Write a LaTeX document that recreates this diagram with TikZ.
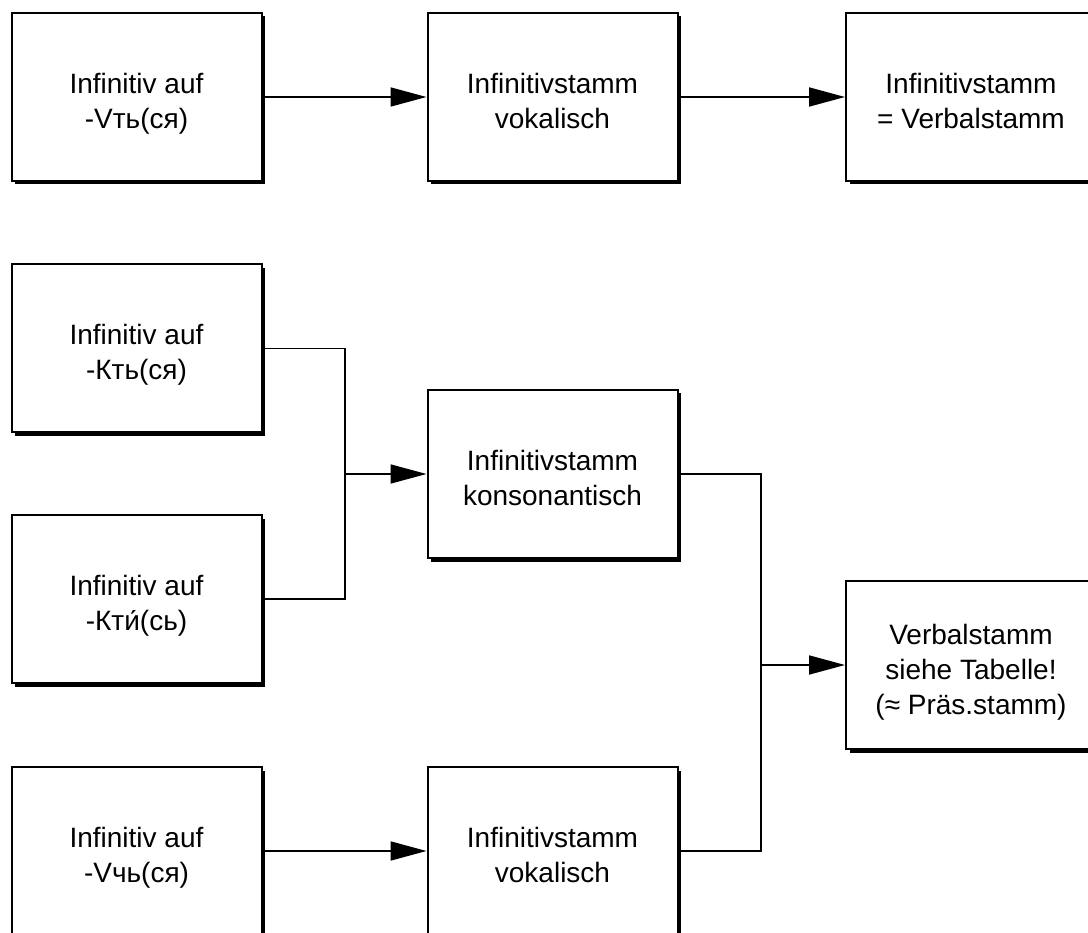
\documentclass[tikz,border=0pt]{standalone}
\usepackage{fontspec}
\setmainfont{Liberation Sans}
\usetikzlibrary{arrows.meta,shadows}
% two- or three-line box label, set a little below the box centre
\newcommand\stemtext[1]{\raisebox{-7pt}[\height][\depth]{\begin{tabular}{@{}c@{}}#1\end{tabular}}}
\begin{document}
\begin{tikzpicture}[x=1pt,y=-1pt,
  stembox/.style={draw,line width=2pt,fill=white,minimum width=250pt,minimum height=168pt,
    inner sep=0pt,font=\fontsize{28}{35}\selectfont,
    drop shadow={shadow xshift=3.5pt,shadow yshift=-3.5pt,opacity=1,fill=black}},
  link/.style={line width=1.8pt},
  flow/.style={line width=1.8pt,-{Triangle[length=36pt,width=19pt]}}]
\useasboundingbox (0,0) rectangle (1088,933);

% first row: vocalic infinitive stem
\node[stembox] (a1) at (136.5,97) {\stemtext{Infinitiv auf\\-Vть(ся)}};
\node[stembox] (b1) at (552.5,97) {\stemtext{Infinitivstamm\\vokalisch}};
\node[stembox] (c1) at (971,97) {\stemtext{Infinitivstamm\\= Verbalstamm}};

% consonantal and -чь infinitives
\node[stembox] (a2) at (136.5,348.5) {\stemtext{Infinitiv auf\\-Кть(ся)}};
\node[stembox] (a3) at (136.5,599) {\stemtext{Infinitiv auf\\-Кти́(сь)}};
\node[stembox] (b2) at (552.5,474) {\stemtext{Infinitivstamm\\konsonantisch}};
\node[stembox] (c2) at (971,665) {\stemtext{Verbalstamm\\siehe Tabelle!\\(≈ Präs.stamm)}};
\node[stembox] (a4) at (136.5,851) {\stemtext{Infinitiv auf\\-Vчь(ся)}};
\node[stembox] (b4) at (552.5,851) {\stemtext{Infinitivstamm\\vokalisch}};

\coordinate (j1) at (345,474);
\coordinate (j2) at (761,665);

\draw[flow] (a1.east) -- (b1.west);
\draw[flow] (b1.east) -- (c1.west);

\draw[link] (a2.east) -| (j1);
\draw[link] (a3.east) -| (j1);
\draw[flow] (j1) -- (b2.west);

\draw[link] (b2.east) -| (j2);
\draw[link] (b4.east) -| (j2);
\draw[flow] (j2) -- (c2.west);

\draw[flow] (a4.east) -- (b4.west);
\end{tikzpicture}
\end{document}
